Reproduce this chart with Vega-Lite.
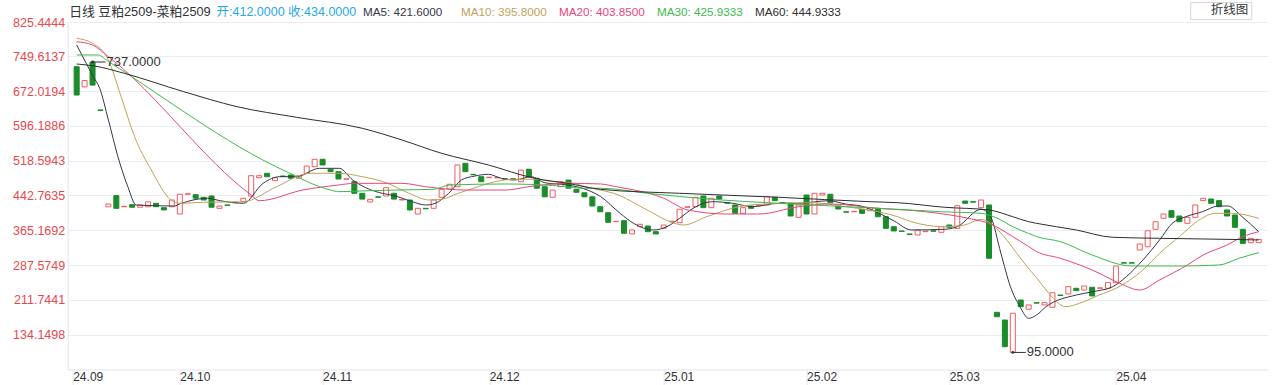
{
  "$schema": "https://vega.github.io/schema/vega-lite/v6.json",
  "width": 1200,
  "height": 347.5,
  "autosize": {"type": "none"},
  "padding": {"left": 67.7, "top": 22, "right": 4.3, "bottom": 15.5},
  "background": "#ffffff",
  "config": {
    "view": {"stroke": null},
    "font": "Liberation Sans, Noto Sans CJK SC, sans-serif"
  },
  "datasets": {
    "candles": [
      {"i":0,"o":726.6,"c":664},{"i":1,"o":682,"c":696},{"i":2,"o":737,"c":686},{"i":3,"o":631,"c":630},
      {"i":4,"o":417,"c":423},{"i":5,"o":441.6,"c":413.6},{"i":6,"o":417,"c":418},{"i":7,"o":421.6,"c":416},
      {"i":8,"o":416,"c":421},{"i":9,"o":417,"c":428},{"i":10,"o":424.7,"c":417.2},{"i":11,"o":415,"c":410},
      {"i":12,"o":417,"c":432},{"i":13,"o":401,"c":444.7},{"i":14,"o":444.7,"c":445.7},{"i":15,"o":443.8,"c":435.8},
      {"i":16,"o":438,"c":432},{"i":17,"o":440.8,"c":416},{"i":18,"o":413.6,"c":418.7},{"i":19,"o":421,"c":420},
      {"i":20,"o":426,"c":427},{"i":21,"o":428.2,"c":435.8},{"i":22,"o":440.8,"c":485.7},{"i":23,"o":481.3,"c":485.7},
      {"i":24,"o":491,"c":483.5},{"i":25,"o":474.7,"c":481.3},{"i":26,"o":485,"c":484},{"i":27,"o":487.3,"c":480},
      {"i":28,"o":480,"c":485.7},{"i":29,"o":491,"c":507},{"i":30,"o":505.6,"c":522},{"i":31,"o":522,"c":509.4},
      {"i":32,"o":500,"c":494.6},{"i":33,"o":494.6,"c":478.4},{"i":34,"o":477.7,"c":478.7},{"i":35,"o":472.4,"c":446.8},
      {"i":36,"o":446.8,"c":434},{"i":37,"o":427.6,"c":433.5},{"i":38,"o":439,"c":438},{"i":39,"o":440.8,"c":459.2},
      {"i":40,"o":446.8,"c":434},{"i":41,"o":432,"c":433},{"i":42,"o":432,"c":409.9},{"i":43,"o":401,"c":413.6},
      {"i":44,"o":413.6,"c":412.6},{"i":45,"o":413.6,"c":432},{"i":46,"o":438,"c":455.6},{"i":47,"o":456.3,"c":466.7},
      {"i":48,"o":461.4,"c":509.4},{"i":49,"o":513.1,"c":494.6},{"i":50,"o":488.8,"c":487.8},{"i":51,"o":483.5,"c":472.4},
      {"i":52,"o":481.3,"c":482.3},{"i":53,"o":481,"c":482},{"i":54,"o":479,"c":478},{"i":55,"o":479,"c":478},
      {"i":56,"o":472.4,"c":498},{"i":57,"o":500,"c":483.5},{"i":58,"o":480,"c":458},{"i":59,"o":461.4,"c":439},
      {"i":60,"o":438,"c":454},{"i":61,"o":461.4,"c":472.4},{"i":62,"o":476,"c":458},{"i":63,"o":455.6,"c":449},
      {"i":64,"o":448,"c":439},{"i":65,"o":439,"c":418.7},{"i":66,"o":417.2,"c":406},{"i":67,"o":404,"c":382.7},
      {"i":68,"o":384,"c":385},{"i":69,"o":386.2,"c":358.4},{"i":70,"o":357,"c":365.7},{"i":71,"o":373,"c":378.3},
      {"i":72,"o":374.5,"c":361.9},{"i":73,"o":361.9,"c":356.9},{"i":74,"o":369.4,"c":376.7},{"i":75,"o":384,"c":385},
      {"i":76,"o":381.8,"c":411.4},{"i":77,"o":415.9,"c":416.9},{"i":78,"o":417.2,"c":438},{"i":79,"o":440.8,"c":415},
      {"i":80,"o":415,"c":435.8},{"i":81,"o":440.8,"c":434},{"i":82,"o":426,"c":425},{"i":83,"o":420.9,"c":402.5},
      {"i":84,"o":402.5,"c":415},{"i":85,"o":418.7,"c":413.6},{"i":86,"o":420,"c":421},{"i":87,"o":420.9,"c":439.3},
      {"i":88,"o":438,"c":430.6},{"i":89,"o":426,"c":425},{"i":90,"o":424.7,"c":396.6},{"i":91,"o":393.7,"c":420.9},
      {"i":92,"o":443,"c":401},{"i":93,"o":401,"c":446.8},{"i":94,"o":443,"c":446.8},{"i":95,"o":444.7,"c":426},
      {"i":96,"o":418.7,"c":412},{"i":97,"o":406,"c":405},{"i":98,"o":406,"c":407},{"i":99,"o":411.4,"c":402.5},
      {"i":100,"o":408.4,"c":415},{"i":101,"o":413.6,"c":395},{"i":102,"o":395,"c":369.4},{"i":103,"o":373,"c":363.5},
      {"i":104,"o":363.5,"c":362.5},{"i":105,"o":356.9,"c":355.9},{"i":106,"o":354.6,"c":365.7},{"i":107,"o":362,"c":363},
      {"i":108,"o":364,"c":363},{"i":109,"o":360.6,"c":373},{"i":110,"o":376.7,"c":371.6},{"i":111,"o":369.4,"c":419.4},
      {"i":112,"o":429.7,"c":424.7},{"i":113,"o":428.2,"c":427.2},{"i":114,"o":415,"c":432},{"i":115,"o":420.9,"c":303.2},
      {"i":116,"o":183.7,"c":174},{"i":117,"o":166.7,"c":107.7},{"i":118,"o":95,"c":181.6},{"i":119,"o":210.9,"c":196.2},
      {"i":120,"o":190.4,"c":200},{"i":121,"o":205,"c":204},{"i":122,"o":200,"c":205},{"i":123,"o":194.8,"c":227},
      {"i":124,"o":222,"c":221},{"i":125,"o":224.2,"c":240.4},{"i":126,"o":236.8,"c":231.6},{"i":127,"o":233,"c":241.9},
      {"i":128,"o":239,"c":219.8},{"i":129,"o":236.8,"c":237.8},{"i":130,"o":236.8,"c":249.2},{"i":131,"o":249.2,"c":286.1},
      {"i":132,"o":293.4,"c":292.4},{"i":133,"o":293.4,"c":292.4},{"i":134,"o":321.4,"c":334.7},{"i":135,"o":328.6,"c":364},
      {"i":136,"o":367.2,"c":384},{"i":137,"o":391.5,"c":401},{"i":138,"o":408.4,"c":393.7},{"i":139,"o":396.6,"c":384},
      {"i":140,"o":380.4,"c":393.7},{"i":141,"o":393.7,"c":420.9},{"i":142,"o":430.6,"c":435.8},{"i":143,"o":434.2,"c":424.7},
      {"i":144,"o":430.6,"c":417.2},{"i":145,"o":410,"c":396.6},{"i":146,"o":398.8,"c":371.6},{"i":147,"o":367.2,"c":336},
      {"i":148,"o":337.6,"c":347.3},{"i":149,"o":337.6,"c":345}
    ],
    "ma": [
      {"s":"MA5","i":0,"v":774.6},{"s":"MA5","i":2.1,"v":704.6},{"s":"MA5","i":2.9,"v":678.9},{"s":"MA5","i":4,"v":609},
      {"s":"MA5","i":5.2,"v":527.7},{"s":"MA5","i":6.45,"v":461.4},{"s":"MA5","i":7.5,"v":420.9},{"s":"MA5","i":12.3,"v":418.7},
      {"s":"MA5","i":13.1,"v":424},{"s":"MA5","i":16.5,"v":435.8},{"s":"MA5","i":18.1,"v":430.4},{"s":"MA5","i":21,"v":424.7},
      {"s":"MA5","i":23.5,"v":468.8},{"s":"MA5","i":25.6,"v":483.5},{"s":"MA5","i":27.7,"v":483.5},{"s":"MA5","i":30.6,"v":502},
      {"s":"MA5","i":33.1,"v":502},{"s":"MA5","i":34.8,"v":476.2},{"s":"MA5","i":36.9,"v":455.6},{"s":"MA5","i":38.5,"v":446.8},
      {"s":"MA5","i":40.2,"v":440.8},{"s":"MA5","i":42.3,"v":428.2},{"s":"MA5","i":44,"v":420.9},{"s":"MA5","i":45.2,"v":424.7},
      {"s":"MA5","i":46.9,"v":446.8},{"s":"MA5","i":48.5,"v":476.2},{"s":"MA5","i":50.2,"v":485},{"s":"MA5","i":51.9,"v":488.8},
      {"s":"MA5","i":53.5,"v":480},{"s":"MA5","i":55.2,"v":476.2},{"s":"MA5","i":57.3,"v":483.5},{"s":"MA5","i":59,"v":470.2},
      {"s":"MA5","i":61.9,"v":465.1},{"s":"MA5","i":64.4,"v":454},{"s":"MA5","i":66,"v":440},{"s":"MA5","i":68.5,"v":402.5},
      {"s":"MA5","i":70.2,"v":380.4},{"s":"MA5","i":72.7,"v":365.7},{"s":"MA5","i":74.4,"v":373},{"s":"MA5","i":76,"v":391.5},
      {"s":"MA5","i":77.7,"v":413.6},{"s":"MA5","i":80.2,"v":428.2},{"s":"MA5","i":82.7,"v":424.7},{"s":"MA5","i":85.2,"v":417.2},
      {"s":"MA5","i":88.5,"v":424.7},{"s":"MA5","i":91,"v":424.7},{"s":"MA5","i":94.8,"v":430.4},{"s":"MA5","i":96.9,"v":423.2},
      {"s":"MA5","i":99,"v":418},{"s":"MA5","i":101,"v":404},{"s":"MA5","i":103.1,"v":385},{"s":"MA5","i":105.2,"v":365.7},
      {"s":"MA5","i":109.4,"v":367.2},{"s":"MA5","i":111,"v":373},{"s":"MA5","i":114,"v":411.4},{"s":"MA5","i":115.2,"v":395},
      {"s":"MA5","i":116.5,"v":314.2},{"s":"MA5","i":117.7,"v":240.4},{"s":"MA5","i":118.9,"v":196.2},{"s":"MA5","i":120,"v":170.5},
      {"s":"MA5","i":121,"v":177.8},{"s":"MA5","i":122.2,"v":196.2},{"s":"MA5","i":126,"v":222},{"s":"MA5","i":128.1,"v":229.3},
      {"s":"MA5","i":130.6,"v":240.4},{"s":"MA5","i":132.3,"v":262.4},{"s":"MA5","i":134.4,"v":299.4},{"s":"MA5","i":136.5,"v":343.6},
      {"s":"MA5","i":138.1,"v":380.4},{"s":"MA5","i":139.8,"v":395},{"s":"MA5","i":141.9,"v":406},{"s":"MA5","i":143.9,"v":418.7},
      {"s":"MA5","i":145.1,"v":418.7},{"s":"MA5","i":146.9,"v":395},{"s":"MA5","i":149,"v":362},

      {"s":"MA10","i":0,"v":789.4},{"s":"MA10","i":2,"v":778.3},{"s":"MA10","i":4,"v":741.4},{"s":"MA10","i":5.6,"v":660.4},
      {"s":"MA10","i":7.3,"v":571.9},{"s":"MA10","i":9.4,"v":498.3},{"s":"MA10","i":11.9,"v":431.9},{"s":"MA10","i":13,"v":424.7},
      {"s":"MA10","i":16,"v":427},{"s":"MA10","i":21,"v":428.2},{"s":"MA10","i":25.2,"v":461.4},{"s":"MA10","i":29.4,"v":491},
      {"s":"MA10","i":33.1,"v":491},{"s":"MA10","i":36,"v":483.5},{"s":"MA10","i":39,"v":470.2},{"s":"MA10","i":41.9,"v":446.8},
      {"s":"MA10","i":44.4,"v":432},{"s":"MA10","i":46,"v":433.5},{"s":"MA10","i":48.1,"v":446.8},{"s":"MA10","i":50.6,"v":461.4},
      {"s":"MA10","i":52.7,"v":472.4},{"s":"MA10","i":55.2,"v":477.7},{"s":"MA10","i":57.7,"v":477.7},{"s":"MA10","i":60.2,"v":472.4},
      {"s":"MA10","i":62.7,"v":468.8},{"s":"MA10","i":64,"v":462},{"s":"MA10","i":66,"v":454},{"s":"MA10","i":67.7,"v":446.8},
      {"s":"MA10","i":71.9,"v":410},{"s":"MA10","i":74.8,"v":384},{"s":"MA10","i":76.5,"v":376.7},{"s":"MA10","i":79.4,"v":395},
      {"s":"MA10","i":83.5,"v":417.2},{"s":"MA10","i":86.9,"v":423.2},{"s":"MA10","i":92.7,"v":426},{"s":"MA10","i":96.9,"v":417.2},
      {"s":"MA10","i":101,"v":406},{"s":"MA10","i":103.5,"v":395},{"s":"MA10","i":105.2,"v":384},{"s":"MA10","i":109.4,"v":373},
      {"s":"MA10","i":111.9,"v":376.7},{"s":"MA10","i":114,"v":389.3},{"s":"MA10","i":115.2,"v":380.4},{"s":"MA10","i":116.9,"v":351},
      {"s":"MA10","i":118.5,"v":314.2},{"s":"MA10","i":119.8,"v":284.6},{"s":"MA10","i":121,"v":260},{"s":"MA10","i":122.2,"v":233},
      {"s":"MA10","i":124.7,"v":196.2},{"s":"MA10","i":126.4,"v":203.6},{"s":"MA10","i":128.9,"v":222},{"s":"MA10","i":131,"v":236.8},
      {"s":"MA10","i":134.4,"v":277.3},{"s":"MA10","i":136.5,"v":314.2},{"s":"MA10","i":139,"v":351},{"s":"MA10","i":141.5,"v":387.8},
      {"s":"MA10","i":143.5,"v":402.5},{"s":"MA10","i":145.6,"v":402.5},{"s":"MA10","i":149,"v":391.5},

      {"s":"MA20","i":0,"v":781.9},{"s":"MA20","i":2,"v":774.6},{"s":"MA20","i":4,"v":748.7},{"s":"MA20","i":22,"v":443},
      {"s":"MA20","i":23,"v":430.4},{"s":"MA20","i":28.5,"v":454},{"s":"MA20","i":33,"v":465.1},{"s":"MA20","i":35,"v":468.8},
      {"s":"MA20","i":41,"v":468.8},{"s":"MA20","i":44,"v":461.4},{"s":"MA20","i":47,"v":455.6},{"s":"MA20","i":49,"v":454},
      {"s":"MA20","i":54,"v":454},{"s":"MA20","i":57,"v":461.4},{"s":"MA20","i":62,"v":468.8},{"s":"MA20","i":66,"v":467.4},
      {"s":"MA20","i":68,"v":461.4},{"s":"MA20","i":74,"v":435.8},{"s":"MA20","i":77,"v":410},{"s":"MA20","i":82,"v":401},
      {"s":"MA20","i":86,"v":401},{"s":"MA20","i":91,"v":417.2},{"s":"MA20","i":95,"v":423.2},{"s":"MA20","i":101,"v":413.6},
      {"s":"MA20","i":107,"v":406},{"s":"MA20","i":113,"v":389.3},{"s":"MA20","i":115,"v":380.4},{"s":"MA20","i":118,"v":351},
      {"s":"MA20","i":120,"v":329},{"s":"MA20","i":121,"v":318},{"s":"MA20","i":124,"v":303.1},{"s":"MA20","i":128,"v":277.3},
      {"s":"MA20","i":131.5,"v":247.8},{"s":"MA20","i":134,"v":233},{"s":"MA20","i":136.5,"v":255.2},{"s":"MA20","i":140,"v":288.3},
      {"s":"MA20","i":142,"v":310.4},{"s":"MA20","i":145,"v":332.5},{"s":"MA20","i":147,"v":351},{"s":"MA20","i":149,"v":362},

      {"s":"MA30","i":0,"v":752.5},{"s":"MA30","i":2.7,"v":752.5},{"s":"MA30","i":4,"v":738},{"s":"MA30","i":26,"v":498.3},
      {"s":"MA30","i":32,"v":454},{"s":"MA30","i":33,"v":450.4},{"s":"MA30","i":36,"v":452},{"s":"MA30","i":40,"v":454},
      {"s":"MA30","i":45,"v":455.6},{"s":"MA30","i":47,"v":465.1},{"s":"MA30","i":54,"v":467.4},{"s":"MA30","i":60,"v":464},
      {"s":"MA30","i":64,"v":458},{"s":"MA30","i":66,"v":458},{"s":"MA30","i":72,"v":446.8},{"s":"MA30","i":80,"v":433.5},
      {"s":"MA30","i":88.5,"v":424.7},{"s":"MA30","i":97,"v":417.2},{"s":"MA30","i":101,"v":413.6},{"s":"MA30","i":103.5,"v":411.4},
      {"s":"MA30","i":109,"v":406},{"s":"MA30","i":114,"v":402.5},{"s":"MA30","i":116,"v":392},{"s":"MA30","i":118,"v":373},
      {"s":"MA30","i":120,"v":358},{"s":"MA30","i":121,"v":351},{"s":"MA30","i":124,"v":339.9},{"s":"MA30","i":128,"v":310.4},
      {"s":"MA30","i":133,"v":286.1},{"s":"MA30","i":139,"v":286.1},{"s":"MA30","i":144,"v":288.3},{"s":"MA30","i":146.5,"v":303.1},
      {"s":"MA30","i":149,"v":315.6},

      {"s":"MA60","i":0,"v":732.6},{"s":"MA60","i":2.3,"v":728},{"s":"MA60","i":6,"v":712},{"s":"MA60","i":13.5,"v":671.4},
      {"s":"MA60","i":20.2,"v":638.3},{"s":"MA60","i":27.7,"v":614.8},{"s":"MA60","i":36,"v":590.5},{"s":"MA60","i":41,"v":564.6},
      {"s":"MA60","i":46,"v":535.2},{"s":"MA60","i":51.9,"v":509.4},{"s":"MA60","i":57.7,"v":480},{"s":"MA60","i":61.9,"v":468.8},
      {"s":"MA60","i":66,"v":455.6},{"s":"MA60","i":76,"v":446.8},{"s":"MA60","i":88.5,"v":438},{"s":"MA60","i":100,"v":428.2},
      {"s":"MA60","i":103.5,"v":426},{"s":"MA60","i":109.4,"v":415.9},{"s":"MA60","i":115,"v":410},{"s":"MA60","i":118,"v":395},
      {"s":"MA60","i":120,"v":384},{"s":"MA60","i":121,"v":380.4},{"s":"MA60","i":126,"v":365.7},{"s":"MA60","i":130.6,"v":349.5},
      {"s":"MA60","i":136.5,"v":347.3},{"s":"MA60","i":145,"v":345},{"s":"MA60","i":149,"v":343.6}
    ],
    "extremes": [
      {"i":2,"v":737,"t":"737.0000"},
      {"i":118,"v":95,"t":"95.0000"}
    ]
  },
  "layer": [
    {
      "data": {"name": "candles"},
      "mark": {"type": "bar", "size": 5, "strokeWidth": 1},
      "encoding": {
        "x": {
          "field": "i", "type": "quantitative",
          "scale": {"domain": [-0.5, 149.5], "nice": false, "zero": false},
          "axis": {
            "title": "开:412.0000 收:434.0000",
            "titleX": 148.3,
            "titleY": -358.5,
            "titleAlign": "left",
            "titleBaseline": "middle",
            "titleColor": "#29a8e6",
            "titleFontSize": 12.5,
            "titleFontWeight": "normal",
            "values": [-0.5, 13, 31, 52, 74, 92, 110, 131],
            "labelExpr": "{'-0.5':'24.09','13':'24.10','31':'24.11','52':'24.12','74':'25.01','92':'25.02','110':'25.03','131':'25.04'}[datum.value + '']",
            "labelAlign": "left",
            "labelBaseline": "top",
            "labelColor": "#333333",
            "labelFontSize": 12,
            "labelPadding": -13,
            "labelFlush": false,
            "labelOverlap": false,
            "tickCount": 20,
            "ticks": true,
            "tickColor": "#e6e6ee",
            "tickSize": 15,
            "domainColor": "#e3e3ec",
            "grid": false
          }
        },
        "y": {
          "field": "o", "type": "quantitative",
          "scale": {"domain": [57.3, 825.4444], "nice": false, "zero": false},
          "axis": {
            "title": "日线 豆粕2509-菜粕2509",
            "titleAngle": 0,
            "titleAlign": "left",
            "titleBaseline": "middle",
            "titleX": 1,
            "titleY": -11,
            "titleColor": "#333333",
            "titleFontSize": 12.8,
            "titleFontWeight": "normal",
            "values": [825.4444, 749.6137, 672.0194, 596.1886, 518.5943, 442.7635, 365.1692, 287.5749, 211.7441, 134.1498],
            "tickCount": 30,
            "format": ".4f",
            "labelColor": "#e8474f",
            "labelFontSize": 12.5,
            "labelPadding": 3,
            "labelOverlap": false,
            "labelFlush": false,
            "ticks": false,
            "domainColor": "#e3e3ec",
            "grid": true,
            "gridColor": "#ececf4"
          }
        },
        "y2": {"field": "c"},
        "fill": {"condition": {"test": "datum.c > datum.o", "value": "#ffffff"}, "value": "#1a8c2a"},
        "stroke": {"condition": {"test": "datum.c > datum.o", "value": "#ef5a5f"}, "value": "#1a8c2a"}
      }
    },
    {
      "data": {"name": "ma"},
      "mark": {"type": "line", "strokeWidth": 1, "interpolate": "monotone"},
      "encoding": {
        "x": {"field": "i", "type": "quantitative"},
        "y": {"field": "v", "type": "quantitative"},
        "color": {
          "field": "s", "type": "nominal",
          "scale": {"domain": ["MA5", "MA10", "MA20", "MA30", "MA60"], "range": ["#34364a", "#bfa35a", "#e8457c", "#3dba4c", "#2e2e2e"]},
          "legend": {
            "orient": "none",
            "legendX": 283.5,
            "legendY": -16.5,
            "direction": "horizontal",
            "title": null,
            "gridAlign": "all",
            "symbolSize": 0,
            "symbolOpacity": 0,
            "symbolStrokeWidth": 0,
            "labelOffset": 0,
            "labelFontSize": 11.7,
            "labelLimit": 0,
            "columnPadding": 0,
            "padding": 0,
            "labelColor": {"expr": "scale('color', datum.value)"},
            "labelExpr": "{'MA5':'MA5: 421.6000','MA10':'MA10: 395.8000','MA20':'MA20: 403.8500','MA30':'MA30: 425.9333','MA60':'MA60: 444.9333'}[datum.label]"
          }
        }
      }
    },
    {
      "data": {"name": "extremes"},
      "mark": {"type": "point", "shape": "M0,0H2", "size": 169, "stroke": "#333333", "strokeWidth": 1, "filled": false, "opacity": 1},
      "encoding": {
        "x": {"field": "i", "type": "quantitative"},
        "y": {"field": "v", "type": "quantitative"}
      }
    },
    {
      "data": {"name": "extremes"},
      "mark": {"type": "point", "filled": true, "size": 8, "color": "#333333", "opacity": 1},
      "encoding": {
        "x": {"field": "i", "type": "quantitative"},
        "y": {"field": "v", "type": "quantitative"},
        "shape": {
          "datum": "折线图",
          "scale": {"range": ["circle"]},
          "legend": {
            "orient": "none",
            "legendX": 1122.5,
            "legendY": -20,
            "title": null,
            "symbolSize": 0,
            "symbolOpacity": 0,
            "symbolStrokeWidth": 0,
            "labelOffset": 6,
            "labelFontSize": 12.5,
            "labelColor": "#333333",
            "labelExpr": "datum.label + '\u00a0\u00a0\u00a0\u00a0\u00a0\u00a0\u00a0\u00a0\u00a0\u00a0\u00a0\u00a0'",
            "padding": 2,
            "strokeColor": "#d6d6e0",
            "fillColor": "#ffffff"
          }
        }
      }
    },
    {
      "data": {"name": "extremes"},
      "mark": {"type": "text", "align": "left", "baseline": "middle", "dx": 14, "fontSize": 13, "color": "#333333"},
      "encoding": {
        "x": {"field": "i", "type": "quantitative"},
        "y": {"field": "v", "type": "quantitative"},
        "text": {"field": "t"}
      }
    }
  ]
}
